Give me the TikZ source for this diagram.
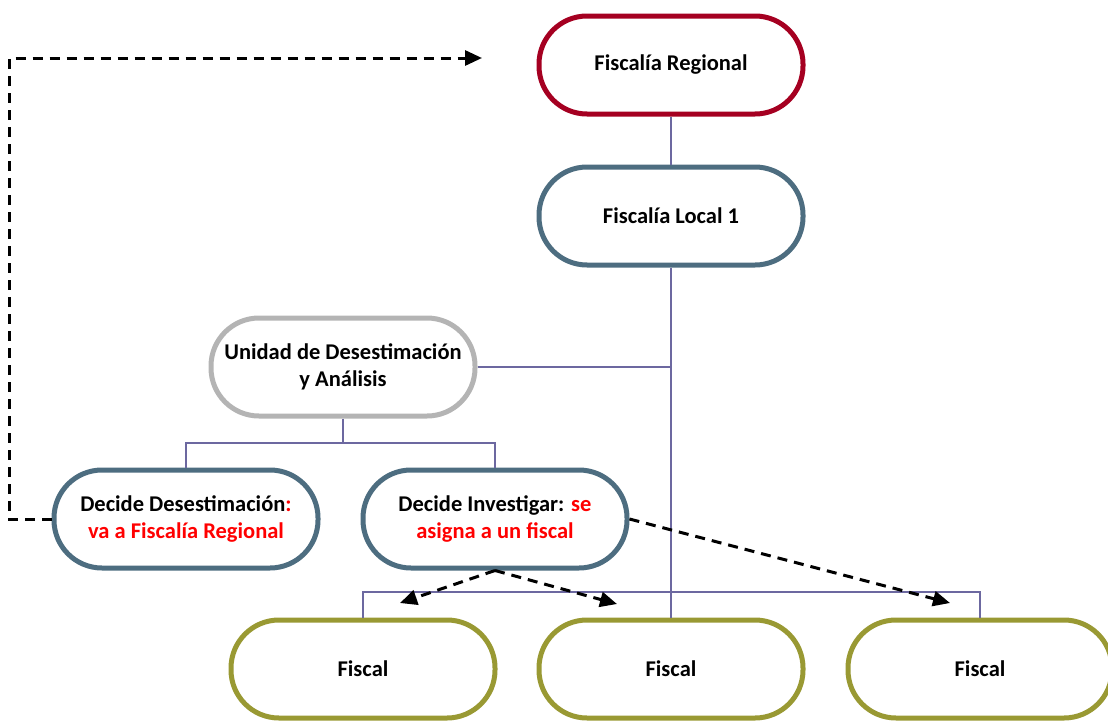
\documentclass[tikz,border=0pt]{standalone}
\usepackage{fontspec}
\setmainfont{Carlito}
\usepackage{xcolor}
\usepackage{tikz}
\usetikzlibrary{shapes}
\usetikzlibrary{arrows.meta}
\usetikzlibrary{positioning}

\definecolor{regred}{HTML}{A50021}
\definecolor{localblue}{HTML}{4D6D80}
\definecolor{unitgray}{HTML}{B4B4B4}
\definecolor{fiscalolive}{HTML}{999933}
\definecolor{linkpurple}{HTML}{6C68A0}

\begin{document}
\begin{tikzpicture} [
            x = 1pt, y = -1pt,
            % ----- Node definitions ----- %
            pillnode/.style = {
                draw = #1,
                rectangle,
                rounded corners = 48pt,
                line width = 5pt,
                minimum width = 264pt,
                minimum height = 98pt,
                fill = white,
                align = center,
                font = \fontsize{22.5}{27}\selectfont\bfseries
            },
            % ----- Connector definitions ----- %
            orgline/.style = {
                draw = linkpurple,
                line width = 2pt
            },
            flowarrow/.style = {
                draw = black,
                line width = 3pt,
                dash pattern = on 10pt off 7pt,
                -{Triangle[length=17pt,width=15pt]}
            },
    ]
    \useasboundingbox (0,0) rectangle (1108,720);

            % ----- Node constructions ----- %
        \node [pillnode=regred] (regional) at (671,65) {Fiscalía Regional};
        \node [pillnode=localblue] (local) at (671,216) {Fiscalía Local 1};
        \node [pillnode=unitgray] (unidad) at (343,367) {Unidad de Desestimación \\ y Análisis};
        \node [pillnode=localblue] (desest) at (186,519) {Decide Desestimación\textcolor{red}{:} \\ \textcolor{red}{va a Fiscalía Regional}};
        \node [pillnode=localblue] (investigar) at (495,519) {Decide Investigar: \textcolor{red}{se} \\ \textcolor{red}{asigna a un fiscal}};
        \node [pillnode=fiscalolive] (fiscalA) at (363,669) {Fiscal};
        \node [pillnode=fiscalolive] (fiscalB) at (671,669) {Fiscal};
        \node [pillnode=fiscalolive] (fiscalC) at (980,669) {Fiscal};

            % ----- Helper coordinates ----- %
        \coordinate (unitbus) at (343,443);
        \coordinate (fiscalbus) at (671,592);
        \coordinate (leftturn) at (9,58);
        \coordinate (regtip) at (482,58);
        \coordinate (tipA) at (400,603);
        \coordinate (tipB) at (617,604);
        \coordinate (tipC) at (950,603);

            % ----- Org chart lines ----- %
        \draw [orgline] (regional.south) -- (local.north);
        \draw [orgline] (local.south) -- (fiscalB.north);
        \draw [orgline] (unidad.east) -- (unidad.east -| local.south);
        \draw [orgline] (unidad.south) -- (unitbus);
        \draw [orgline] (desest.north) |- (unitbus) -| (investigar.north);
        \draw [orgline] (fiscalA.north) |- (fiscalbus) -| (fiscalC.north);

            % ----- Flow arrows ----- %
        \draw [flowarrow] (desest.west) -| (leftturn) -- (regtip);
        \draw [flowarrow] (investigar.south) -- (tipA);
        \draw [flowarrow] (investigar.south) -- (tipB);
        \draw [flowarrow] (investigar.east) -- (tipC);

\end{tikzpicture}
\end{document}
